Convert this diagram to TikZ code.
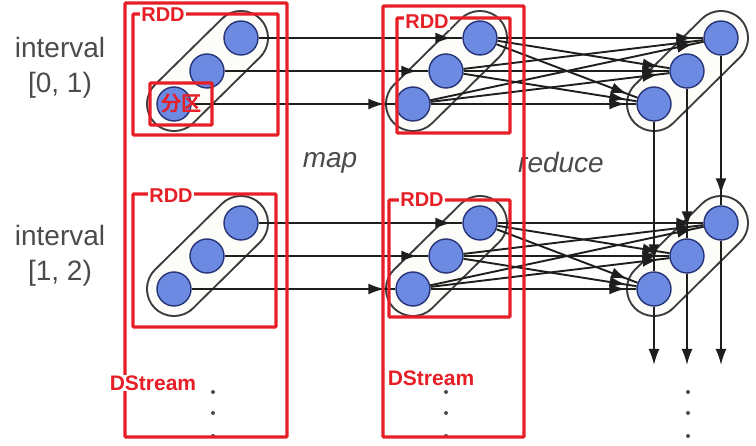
\documentclass[tikz,border=0pt]{standalone}
\usepackage{fontspec}
\setmainfont{Liberation Sans}
\newfontfamily\cjk[FakeBold=4]{Noto Sans CJK SC}
\usetikzlibrary{arrows.meta,decorations.markings}
\definecolor{partblue}{RGB}{108,138,226}
\definecolor{partrim}{RGB}{38,52,118}
\definecolor{pillgray}{RGB}{60,60,60}
\definecolor{pillfill}{RGB}{252,252,248}
\definecolor{linegray}{RGB}{30,30,30}
\definecolor{annored}{RGB}{230,30,38}
\definecolor{txtgray}{RGB}{75,75,75}
\pgfdeclarelayer{bg}
\pgfsetlayers{bg,main}

\begin{document}
\begin{tikzpicture}[x=1pt,y=-1pt]
\tikzset{part/.style={circle,draw=partrim,fill=partblue,line width=1.4pt,minimum size=34pt,inner sep=0pt}}
\tikzset{pillrim/.style={line width=56pt,line cap=round,draw=pillgray}}
\tikzset{pillbody/.style={line width=52pt,line cap=round,draw=pillfill}}
\tikzset{link/.style={color=linegray,line width=1.9pt,postaction={decorate},decoration={markings,mark=at position -11pt with {\arrow{Latex[length=16pt,width=11pt]}}}}}
\tikzset{flow/.style={color=linegray,line width=1.9pt,-{Latex[length=16pt,width=11pt]}}}
\tikzset{redbox/.style={draw=annored,line width=3.2pt,rounded corners=1pt}}
\tikzset{redlabel/.style={text=annored,fill=white,inner sep=1pt,font=\bfseries\fontsize{20}{20}\selectfont}}
\tikzset{caption/.style={text=txtgray,font=\fontsize{28}{35}\selectfont,align=center}}

\useasboundingbox (0,0) rectangle (756,446);

% partitions, interval [0,1)
\node[part] (a1) at (241,38) {};
\node[part] (a2) at (207,71) {};
\node[part] (a3) at (174,104) {};
\node[part] (b1) at (480,38) {};
\node[part] (b2) at (446,71) {};
\node[part] (b3) at (413,104) {};
\node[part] (c1) at (721,38) {};
\node[part] (c2) at (687,71) {};
\node[part] (c3) at (654,104) {};
% partitions, interval [1,2)
\node[part] (d1) at (241,223) {};
\node[part] (d2) at (207,256) {};
\node[part] (d3) at (174,289) {};
\node[part] (e1) at (480,223) {};
\node[part] (e2) at (446,256) {};
\node[part] (e3) at (413,289) {};
\node[part] (f1) at (721,223) {};
\node[part] (f2) at (687,256) {};
\node[part] (f3) at (654,289) {};
\coordinate (o1) at (721,365);
\coordinate (o2) at (687,365);
\coordinate (o3) at (654,365);

\begin{pgfonlayer}{bg}
\draw[pillrim] (a3.center) -- (a1.center);
\draw[pillbody] (a3.center) -- (a1.center);
\draw[pillrim] (b3.center) -- (b1.center);
\draw[pillbody] (b3.center) -- (b1.center);
\draw[pillrim] (c3.center) -- (c1.center);
\draw[pillbody] (c3.center) -- (c1.center);
\draw[pillrim] (d3.center) -- (d1.center);
\draw[pillbody] (d3.center) -- (d1.center);
\draw[pillrim] (e3.center) -- (e1.center);
\draw[pillbody] (e3.center) -- (e1.center);
\draw[pillrim] (f3.center) -- (f1.center);
\draw[pillbody] (f3.center) -- (f1.center);
\end{pgfonlayer}

% map
\draw (a1) edge[link] (b1) (a2) edge[link] (b2) (a3) edge[link] (b3);
\draw (d1) edge[link] (e1) (d2) edge[link] (e2) (d3) edge[link] (e3);
% reduce
\draw (b1) edge[link] (c1) edge[link] (c2) edge[link] (c3);
\draw (b2) edge[link] (c1) edge[link] (c2) edge[link] (c3);
\draw (b3) edge[link] (c1) edge[link] (c2) edge[link] (c3);
\draw (e1) edge[link] (f1) edge[link] (f2) edge[link] (f3);
\draw (e2) edge[link] (f1) edge[link] (f2) edge[link] (f3);
\draw (e3) edge[link] (f1) edge[link] (f2) edge[link] (f3);
% next interval
\draw (c1) edge[link] (f1) (c2) edge[link] (f2) (c3) edge[link] (f3);
\draw[flow] (f1) -- (o1);
\draw[flow] (f2) -- (o2);
\draw[flow] (f3) -- (o3);

\fill[txtgray] (213,392) circle (2) (213,413) circle (2) (213,436) circle (2);
\fill[txtgray] (446,392) circle (2) (446,413) circle (2) (446,436) circle (2);
\fill[txtgray] (688,392) circle (2) (688,413) circle (2) (688,436) circle (2);

\node[caption] (int0) at (60,68) {interval\\{}[0, 1)};
\node[caption] (int1) at (60,256) {interval\\{}[1, 2)};
\node[caption,font=\itshape\fontsize{28}{35}\selectfont] (map) at (330,163) {map};
\node[caption,font=\itshape\fontsize{28}{35}\selectfont] (reduce) at (561,163) {reduce};

% annotations
\draw[redbox] (125,3) rectangle (287,437);
\draw[redbox] (383,6) rectangle (524,437);
\draw[redbox] (133,14) rectangle (278,135);
\draw[redbox] (133,194) rectangle (276,327);
\draw[redbox] (397,18) rectangle (510,133);
\draw[redbox] (389,200) rectangle (510,317);
\draw[redbox] (150,83) rectangle (212,125);
\node[redlabel] (rdd1) at (163,15) {RDD};
\node[redlabel] (rdd2) at (171,196) {RDD};
\node[redlabel] (rdd3) at (427,22) {RDD};
\node[redlabel] (rdd4) at (422,200) {RDD};
\node[redlabel,fill=none,font=\cjk\fontsize{20}{20}\selectfont] (part) at (181,103) {分区};
\node[redlabel,font=\bfseries\fontsize{21}{21}\selectfont] (ds1) at (153,383) {DStream};
\node[redlabel,font=\bfseries\fontsize{21}{21}\selectfont] (ds2) at (431,378) {DStream};
\end{tikzpicture}
\end{document}
